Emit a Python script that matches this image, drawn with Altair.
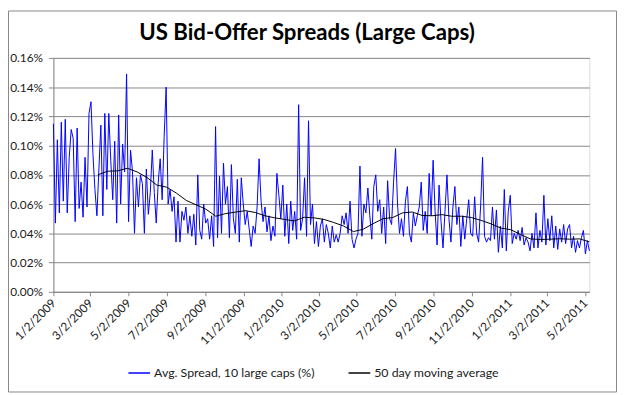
import altair as alt
import pandas as pd

# Average bid-offer spread of 10 large caps, in percent
spread_pct = [
    .115, .047, .104, .054, .116, .062, .118, .054, .092, .111,
    .105, .048, .112, .057, .075, .051, .092, .058, .122, .130,
    .094, .070, .052, .084, .114, .052, .122, .070, .122, .090,
    .063, .103, .047, .121, .060, .101, .082, .149, .048, .097,
    .082, .040, .078, .058, .080, .074, .040, .084, .053, .068,
    .097, .068, .047, .075, .091, .063, .106, .140, .060, .070,
    .055, .065, .034, .062, .034, .055, .049, .058, .040, .052,
    .038, .053, .032, .080, .042, .036, .060, .047, .050, .036,
    .052, .031, .113, .037, .079, .040, .088, .060, .072, .037,
    .087, .050, .040, .077, .034, .078, .060, .046, .055, .043,
    .031, .045, .040, .058, .091, .062, .048, .058, .041, .052,
    .035, .045, .038, .081, .066, .050, .073, .038, .060, .033,
    .062, .042, .055, .036, .128, .042, .050, .078, .038, .117,
    .046, .060, .033, .048, .031, .045, .050, .034, .046, .040,
    .030, .045, .034, .039, .034, .040, .052, .046, .054, .040,
    .062, .036, .030, .036, .040, .086, .038, .060, .054, .071,
    .052, .036, .072, .080, .055, .063, .040, .058, .033, .076,
    .050, .046, .075, .098, .060, .040, .050, .038, .062, .072,
    .040, .034, .054, .045, .052, .058, .075, .042, .055, .040,
    .081, .052, .090, .055, .032, .073, .048, .030, .055, .080,
    .050, .034, .058, .072, .046, .058, .031, .052, .036, .050,
    .063, .040, .038, .065, .040, .034, .058, .092, .038, .034,
    .037, .035, .058, .036, .056, .027, .045, .030, .070, .028,
    .055, .066, .033, .040, .036, .042, .035, .044, .032, .037,
    .034, .028, .040, .030, .054, .030, .042, .034, .066, .032,
    .050, .035, .052, .030, .045, .029, .043, .034, .046, .033,
    .043, .046, .030, .038, .027, .035, .030, .037, .042, .026,
    .035, .028,
]

# 50 day moving average, in percent
ma_pct = [
    .0800, .0825, .0827, .0845, .0820, .0782, .0730, .0716, .0675, .0625,
    .0595, .0565, .0517, .0535, .0545, .0555, .0543, .0520, .0506, .0495,
    .0485, .0510, .0506, .0495, .0474, .0450, .0412, .0428, .0466, .0500,
    .0508, .0540, .0546, .0522, .0520, .0528, .0517, .0517, .0508, .0488,
    .0465, .0436, .0425, .0392, .0362, .0358, .0360, .0363, .0360, .0362,
    .0342,
]

series_names = ["Avg. Spread, 10 large caps (%)", "50 day moving average"]
series_colors = ["#0000ff", "#000000"]
title_text = "US Bid-Offer Spreads (Large Caps)"

spread_start, spread_end = "2009-01-02", "2011-05-09"
ma_start = "2009-03-14"

tick_dates = [
    (2009, 1, 2), (2009, 3, 2), (2009, 5, 2), (2009, 7, 2), (2009, 9, 2),
    (2009, 11, 2), (2010, 1, 2), (2010, 3, 2), (2010, 5, 2), (2010, 7, 2),
    (2010, 9, 2), (2010, 11, 2), (2011, 1, 2), (2011, 3, 2), (2011, 5, 2),
]
y_ticks = [0, 0.02, 0.04, 0.06, 0.08, 0.10, 0.12, 0.14, 0.16]

spread_df = pd.DataFrame({
    "date": pd.date_range(spread_start, spread_end, periods=len(spread_pct)),
    "value": spread_pct,
    "series": series_names[0],
})
ma_df = pd.DataFrame({
    "date": pd.date_range(ma_start, spread_end, periods=len(ma_pct)),
    "value": ma_pct,
    "series": series_names[1],
})

W, H = 543, 237
PAD = {"left": 46, "top": 48, "right": 28, "bottom": 102}
GRAY = "#868686"
FONT = "Lato"
TXT = "#1a1a1a"

x_enc = alt.X(
    "date:T",
    title=None,
    scale=alt.Scale(domain=[alt.DateTime(year=2009, month=1, date=2),
                            alt.DateTime(year=2011, month=5, date=9)]),
    axis=alt.Axis(
        values=[alt.DateTime(year=a, month=b, date=c) for a, b, c in tick_dates],
        tickCount=40,
        labelExpr="timeFormat(datum.value, '%-m/%-d/%Y')",
        labelAngle=315, labelAlign="right", labelBaseline="middle",
        labelPadding=5, tickSize=4, tickColor=GRAY, domainColor=GRAY,
        grid=False, labelFont=FONT, labelFontSize=12, labelColor=TXT,
        labelOverlap=False, labelFlush=False,
    ),
)
y_enc = alt.Y(
    "value:Q",
    title=None,
    scale=alt.Scale(domain=[0, 0.16], nice=False),
    axis=alt.Axis(
        values=y_ticks,
        tickCount=40,
        labelExpr="format(datum.value, '.2f') + '%'",
        tickSize=5, tickColor=GRAY, domainColor=GRAY,
        grid=True, gridColor=GRAY, gridWidth=1,
        labelFont=FONT, labelFontSize=12, labelColor=TXT, labelPadding=6,
        labelOverlap=False,
    ),
)
color_enc = alt.Color(
    "series:N",
    scale=alt.Scale(domain=series_names, range=series_colors),
    legend=alt.Legend(
        orient="none", legendX=75, legendY=307, direction="horizontal",
        title=None, symbolType="stroke", symbolSize=484, symbolStrokeWidth=1.5,
        labelFont=FONT, labelFontSize=12.5, labelColor=TXT, labelLimit=400,
        labelOffset=3, columnPadding=31,
    ),
)

spread_line = alt.Chart(spread_df).mark_line(strokeWidth=1).encode(
    x=x_enc, y=y_enc, color=color_enc
)
ma_line = alt.Chart(ma_df).mark_line(strokeWidth=1).encode(
    x=x_enc, y=y_enc, color=color_enc
)
one_row = alt.Data(values=[{"k": 1}])
border = alt.Chart(one_row).mark_rect(
    fill="transparent", stroke=GRAY, strokeWidth=1
).encode(
    x=alt.value(-45.5), x2=alt.value(W + PAD["right"] - 0.5),
    y=alt.value(-47.5), y2=alt.value(H + PAD["bottom"] - 0.5),
)
title = alt.Chart(one_row).mark_text(
    font=FONT, fontSize=22.5, fontWeight="bold", color="#000000",
    align="center", baseline="alphabetic",
).encode(
    text=alt.value(title_text), x=alt.value(257), y=alt.value(-18.5),
)

chart = alt.layer(spread_line, ma_line, border, title).properties(
    width=W, height=H,
    padding=PAD,
    autosize=alt.AutoSizeParams(type="none"),
).configure_view(stroke=None).configure(background="white")

chart.save("out.html", embed_options={"renderer": "svg", "actions": False})
